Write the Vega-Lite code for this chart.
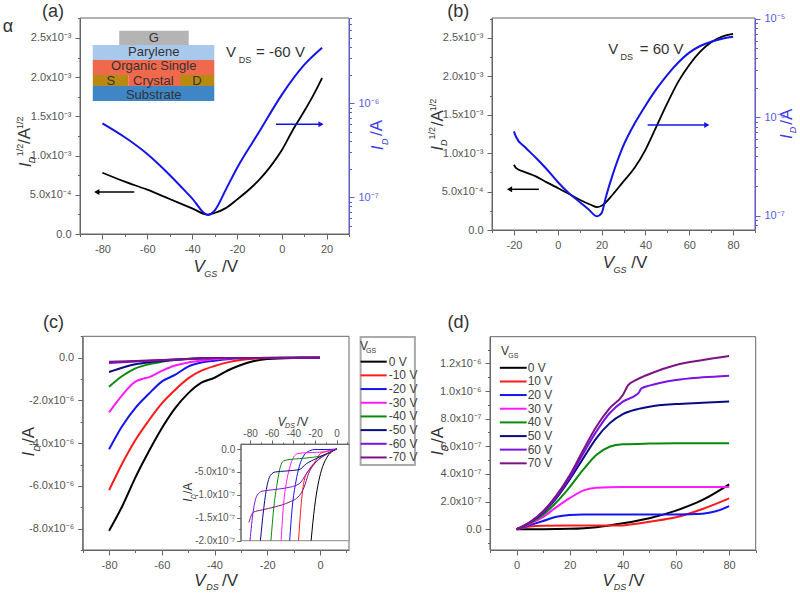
{"$schema":"https://vega.github.io/schema/vega-lite/v6.json","width":800,"height":593,"padding":0,"autosize":{"type":"none"},"background":"white",
"config":{"view":{"stroke":null},"legend":{"disable":true},"axis":{"grid":false,"title":null,"labelOverlap":false,"labelFlush":false,"labelBound":false,"domainColor":"#666666","tickColor":"#666666","labelColor":"#555555","labelFont":"Liberation Sans","labelFontSize":11,"labelPadding":4},"text":{"font":"Liberation Sans","baseline":"middle"},"line":{"interpolate":"monotone"}},
"datasets":{
"aBlack":[{"v":-80,"i":0.782e-3},{"v":-70,"i":0.667e-3},{"v":-60,"i":0.565e-3},{"v":-50,"i":0.446e-3},{"v":-40,"i":0.327e-3},{"v":-33,"i":0.247e-3},{"v":-30,"i":0.268e-3},{"v":-25,"i":0.33e-3},{"v":-20,"i":0.438e-3},{"v":-10,"i":0.693e-3},{"v":-5,"i":0.863e-3},{"v":0,"i":1.067e-3},{"v":5,"i":1.33e-3},{"v":10,"i":1.565e-3},{"v":15,"i":1.82e-3},{"v":18,"i":1.99e-3}],
"aBlue":[{"v":-80,"i":6.12e-7},{"v":-70,"i":4.35e-7},{"v":-60,"i":2.89e-7},{"v":-50,"i":1.73e-7},{"v":-40,"i":9.75e-8},{"v":-33,"i":6.49e-8},{"v":-30,"i":7.2e-8},{"v":-25,"i":1.2e-7},{"v":-20,"i":2.04e-7},{"v":-10,"i":5.0e-7},{"v":0,"i":1.23e-6},{"v":10,"i":2.56e-6},{"v":18,"i":3.9e-6}],
"bBlack":[{"v":-20,"i":0.849e-3},{"v":-19,"i":0.806e-3},{"v":-15,"i":0.754e-3},{"v":-10,"i":0.698e-3},{"v":-5,"i":0.62e-3},{"v":0,"i":0.546e-3},{"v":5,"i":0.472e-3},{"v":10,"i":0.394e-3},{"v":15,"i":0.329e-3},{"v":18,"i":0.299e-3},{"v":20,"i":0.316e-3},{"v":25,"i":0.459e-3},{"v":30,"i":0.633e-3},{"v":35,"i":0.806e-3},{"v":40,"i":1.044e-3},{"v":45,"i":1.347e-3},{"v":50,"i":1.651e-3},{"v":55,"i":1.932e-3},{"v":60,"i":2.149e-3},{"v":65,"i":2.322e-3},{"v":70,"i":2.444e-3},{"v":75,"i":2.517e-3},{"v":80,"i":2.552e-3}],
"bBlue":[{"v":-20,"i":7.2e-7},{"v":-19,"i":6.3e-7},{"v":-15,"i":4.98e-7},{"v":-10,"i":3.88e-7},{"v":-5,"i":2.96e-7},{"v":0,"i":2.2e-7},{"v":5,"i":1.7e-7},{"v":10,"i":1.38e-7},{"v":14,"i":1.16e-7},{"v":18,"i":9.85e-8},{"v":20,"i":1.06e-7},{"v":22,"i":1.56e-7},{"v":25,"i":2.58e-7},{"v":30,"i":5.17e-7},{"v":35,"i":8.57e-7},{"v":40,"i":1.31e-6},{"v":45,"i":1.93e-6},{"v":50,"i":2.7e-6},{"v":55,"i":3.6e-6},{"v":60,"i":4.54e-6},{"v":65,"i":5.3e-6},{"v":70,"i":5.86e-6},{"v":75,"i":6.28e-6},{"v":80,"i":6.58e-6}],
"cLines":[
{"g":"0","v":-80,"i":-8.1e-6},{"g":"0","v":-75,"i":-6.95e-6},{"g":"0","v":-70,"i":-5.6e-6},{"g":"0","v":-65,"i":-4.4e-6},{"g":"0","v":-60,"i":-3.3e-6},{"g":"0","v":-55,"i":-2.37e-6},{"g":"0","v":-50,"i":-1.67e-6},{"g":"0","v":-45,"i":-1.17e-6},{"g":"0","v":-40,"i":-0.94e-6},{"g":"0","v":-35,"i":-0.6e-6},{"g":"0","v":-30,"i":-0.34e-6},{"g":"0","v":-25,"i":-0.16e-6},{"g":"0","v":-20,"i":-0.06e-6},{"g":"0","v":-10,"i":-0.01e-6},{"g":"0","v":0,"i":0},
{"g":"10","v":-80,"i":-6.2e-6},{"g":"10","v":-75,"i":-4.95e-6},{"g":"10","v":-70,"i":-3.85e-6},{"g":"10","v":-65,"i":-2.95e-6},{"g":"10","v":-60,"i":-2.14e-6},{"g":"10","v":-55,"i":-1.51e-6},{"g":"10","v":-50,"i":-0.97e-6},{"g":"10","v":-45,"i":-0.61e-6},{"g":"10","v":-40,"i":-0.39e-6},{"g":"10","v":-35,"i":-0.22e-6},{"g":"10","v":-30,"i":-0.11e-6},{"g":"10","v":-25,"i":-0.05e-6},{"g":"10","v":-20,"i":-0.02e-6},{"g":"10","v":0,"i":0},
{"g":"20","v":-80,"i":-4.29e-6},{"g":"20","v":-75,"i":-3.2e-6},{"g":"20","v":-70,"i":-2.35e-6},{"g":"20","v":-65,"i":-1.7e-6},{"g":"20","v":-60,"i":-1.12e-6},{"g":"20","v":-55,"i":-0.81e-6},{"g":"20","v":-50,"i":-0.42e-6},{"g":"20","v":-45,"i":-0.23e-6},{"g":"20","v":-40,"i":-0.14e-6},{"g":"20","v":-35,"i":-0.07e-6},{"g":"20","v":-30,"i":-0.03e-6},{"g":"20","v":-20,"i":-0.01e-6},{"g":"20","v":0,"i":0},
{"g":"30","v":-80,"i":-2.56e-6},{"g":"30","v":-75,"i":-1.75e-6},{"g":"30","v":-70,"i":-1.12e-6},{"g":"30","v":-67,"i":-0.98e-6},{"g":"30","v":-65,"i":-0.92e-6},{"g":"30","v":-60,"i":-0.62e-6},{"g":"30","v":-55,"i":-0.37e-6},{"g":"30","v":-50,"i":-0.23e-6},{"g":"30","v":-45,"i":-0.14e-6},{"g":"30","v":-40,"i":-0.07e-6},{"g":"30","v":-30,"i":-0.02e-6},{"g":"30","v":0,"i":0},
{"g":"40","v":-80,"i":-1.36e-6},{"g":"40","v":-75,"i":-0.86e-6},{"g":"40","v":-70,"i":-0.5e-6},{"g":"40","v":-65,"i":-0.31e-6},{"g":"40","v":-60,"i":-0.19e-6},{"g":"40","v":-55,"i":-0.1e-6},{"g":"40","v":-50,"i":-0.05e-6},{"g":"40","v":-40,"i":-0.02e-6},{"g":"40","v":0,"i":0},
{"g":"50","v":-80,"i":-0.67e-6},{"g":"50","v":-75,"i":-0.47e-6},{"g":"50","v":-70,"i":-0.31e-6},{"g":"50","v":-65,"i":-0.22e-6},{"g":"50","v":-60,"i":-0.16e-6},{"g":"50","v":-50,"i":-0.06e-6},{"g":"50","v":-40,"i":-0.02e-6},{"g":"50","v":0,"i":0},
{"g":"60","v":-80,"i":-0.25e-6},{"g":"60","v":-70,"i":-0.18e-6},{"g":"60","v":-60,"i":-0.12e-6},{"g":"60","v":-50,"i":-0.06e-6},{"g":"60","v":-40,"i":-0.02e-6},{"g":"60","v":0,"i":0},
{"g":"70","v":-80,"i":-0.19e-6},{"g":"70","v":-70,"i":-0.16e-6},{"g":"70","v":-60,"i":-0.11e-6},{"g":"70","v":-50,"i":-0.06e-6},{"g":"70","v":-40,"i":-0.02e-6},{"g":"70","v":0,"i":0}],
"insetLines":[
{"g":"0","v":-23.6,"i":-2e-7},{"g":"0","v":-20.4,"i":-1.27e-7},{"g":"0","v":-17.3,"i":-0.79e-7},{"g":"0","v":-14,"i":-0.46e-7},{"g":"0","v":-9.4,"i":-0.2e-7},{"g":"0","v":-4.7,"i":-0.06e-7},{"g":"0","v":0,"i":0},
{"g":"10","v":-35.2,"i":-2e-7},{"g":"10","v":-33,"i":-1.27e-7},{"g":"10","v":-29.9,"i":-0.68e-7},{"g":"10","v":-25,"i":-0.43e-7},{"g":"10","v":-20,"i":-0.28e-7},{"g":"10","v":-15,"i":-0.1e-7},{"g":"10","v":-9,"i":-0.05e-7},{"g":"10","v":0,"i":0},
{"g":"20","v":-43.4,"i":-2e-7},{"g":"20","v":-41,"i":-1.27e-7},{"g":"20","v":-37.7,"i":-0.72e-7},{"g":"20","v":-34.6,"i":-0.39e-7},{"g":"20","v":-30,"i":-0.13e-7},{"g":"20","v":-25,"i":-0.04e-7},{"g":"20","v":-20,"i":-0.01e-7},{"g":"20","v":-9,"i":-0.01e-7},{"g":"20","v":0,"i":0},
{"g":"30","v":-51.3,"i":-2e-7},{"g":"30","v":-49,"i":-1.2e-7},{"g":"30","v":-46,"i":-0.68e-7},{"g":"30","v":-42.7,"i":-0.35e-7},{"g":"30","v":-39.6,"i":-0.17e-7},{"g":"30","v":-36,"i":-0.1e-7},{"g":"30","v":-28,"i":-0.08e-7},{"g":"30","v":-16,"i":-0.07e-7},{"g":"30","v":0,"i":0},
{"g":"40","v":-60.7,"i":-2e-7},{"g":"40","v":-58,"i":-1.27e-7},{"g":"40","v":-55,"i":-0.76e-7},{"g":"40","v":-52,"i":-0.39e-7},{"g":"40","v":-49,"i":-0.26e-7},{"g":"40","v":-44,"i":-0.23e-7},{"g":"40","v":-34.6,"i":-0.21e-7},{"g":"40","v":-22,"i":-0.18e-7},{"g":"40","v":-11,"i":-0.13e-7},{"g":"40","v":0,"i":0},
{"g":"50","v":-70.4,"i":-2e-7},{"g":"50","v":-67.6,"i":-1.35e-7},{"g":"50","v":-64.5,"i":-0.83e-7},{"g":"50","v":-61,"i":-0.57e-7},{"g":"50","v":-56.6,"i":-0.5e-7},{"g":"50","v":-47,"i":-0.48e-7},{"g":"50","v":-34.6,"i":-0.45e-7},{"g":"50","v":-28,"i":-0.32e-7},{"g":"50","v":-19,"i":-0.21e-7},{"g":"50","v":-9.4,"i":-0.1e-7},{"g":"50","v":0,"i":0},
{"g":"60","v":-80,"i":-2e-7},{"g":"60","v":-77,"i":-1.35e-7},{"g":"60","v":-73.7,"i":-1.02e-7},{"g":"60","v":-69,"i":-0.92e-7},{"g":"60","v":-59.6,"i":-0.89e-7},{"g":"60","v":-47,"i":-0.85e-7},{"g":"60","v":-34.6,"i":-0.76e-7},{"g":"60","v":-28,"i":-0.54e-7},{"g":"60","v":-19,"i":-0.28e-7},{"g":"60","v":-9.4,"i":-0.11e-7},{"g":"60","v":0,"i":0},
{"g":"70","v":-81,"i":-1.6e-7},{"g":"70","v":-77,"i":-1.38e-7},{"g":"70","v":-69,"i":-1.33e-7},{"g":"70","v":-56.6,"i":-1.26e-7},{"g":"70","v":-44,"i":-1.16e-7},{"g":"70","v":-34.6,"i":-1.02e-7},{"g":"70","v":-30,"i":-0.83e-7},{"g":"70","v":-26,"i":-0.54e-7},{"g":"70","v":-19,"i":-0.28e-7},{"g":"70","v":-9.4,"i":-0.11e-7},{"g":"70","v":0,"i":0}],
"dLines":[
{"g":"0","v":0,"i":0},{"g":"0","v":10,"i":0},{"g":"0","v":20,"i":0.03e-7},{"g":"0","v":30,"i":0.15e-7},{"g":"0","v":40,"i":0.43e-7},{"g":"0","v":50,"i":0.8e-7},{"g":"0","v":60,"i":1.35e-7},{"g":"0","v":70,"i":2.12e-7},{"g":"0","v":80,"i":3.25e-7},
{"g":"10","v":0,"i":0},{"g":"10","v":5,"i":0.2e-7},{"g":"10","v":10,"i":0.25e-7},{"g":"10","v":20,"i":0.27e-7},{"g":"10","v":30,"i":0.27e-7},{"g":"10","v":40,"i":0.28e-7},{"g":"10","v":45,"i":0.4e-7},{"g":"10","v":50,"i":0.55e-7},{"g":"10","v":60,"i":0.87e-7},{"g":"10","v":70,"i":1.47e-7},{"g":"10","v":80,"i":2.24e-7},
{"g":"20","v":0,"i":0},{"g":"20","v":5,"i":0.3e-7},{"g":"20","v":10,"i":0.6e-7},{"g":"20","v":15,"i":0.9e-7},{"g":"20","v":20,"i":1.03e-7},{"g":"20","v":25,"i":1.06e-7},{"g":"20","v":40,"i":1.06e-7},{"g":"20","v":60,"i":1.07e-7},{"g":"20","v":70,"i":1.13e-7},{"g":"20","v":75,"i":1.3e-7},{"g":"20","v":80,"i":1.68e-7},
{"g":"30","v":0,"i":0},{"g":"30","v":5,"i":0.4e-7},{"g":"30","v":10,"i":0.9e-7},{"g":"30","v":15,"i":1.6e-7},{"g":"30","v":20,"i":2.25e-7},{"g":"30","v":25,"i":2.8e-7},{"g":"30","v":30,"i":3.0e-7},{"g":"30","v":40,"i":3.06e-7},{"g":"30","v":60,"i":3.05e-7},{"g":"30","v":80,"i":3.05e-7},
{"g":"40","v":0,"i":0},{"g":"40","v":5,"i":0.45e-7},{"g":"40","v":10,"i":1.05e-7},{"g":"40","v":15,"i":1.95e-7},{"g":"40","v":20,"i":3.05e-7},{"g":"40","v":25,"i":4.29e-7},{"g":"40","v":30,"i":5.37e-7},{"g":"40","v":35,"i":5.97e-7},{"g":"40","v":40,"i":6.15e-7},{"g":"40","v":50,"i":6.2e-7},{"g":"40","v":60,"i":6.22e-7},{"g":"40","v":80,"i":6.22e-7},
{"g":"50","v":0,"i":0},{"g":"50","v":5,"i":0.5e-7},{"g":"50","v":10,"i":1.2e-7},{"g":"50","v":15,"i":2.25e-7},{"g":"50","v":20,"i":3.6e-7},{"g":"50","v":25,"i":5.1e-7},{"g":"50","v":30,"i":6.58e-7},{"g":"50","v":35,"i":7.66e-7},{"g":"50","v":40,"i":8.33e-7},{"g":"50","v":45,"i":8.67e-7},{"g":"50","v":50,"i":8.87e-7},{"g":"50","v":60,"i":9.06e-7},{"g":"50","v":70,"i":9.15e-7},{"g":"50","v":80,"i":9.25e-7},
{"g":"60","v":0,"i":0},{"g":"60","v":5,"i":0.5e-7},{"g":"60","v":10,"i":1.25e-7},{"g":"60","v":15,"i":2.35e-7},{"g":"60","v":20,"i":3.75e-7},{"g":"60","v":25,"i":5.45e-7},{"g":"60","v":30,"i":7.06e-7},{"g":"60","v":35,"i":8.39e-7},{"g":"60","v":40,"i":9.23e-7},{"g":"60","v":45,"i":9.71e-7},{"g":"60","v":46,"i":9.88e-7},{"g":"60","v":47,"i":10.19e-7},{"g":"60","v":50,"i":10.39e-7},{"g":"60","v":60,"i":10.8e-7},{"g":"60","v":70,"i":10.99e-7},{"g":"60","v":80,"i":11.11e-7},
{"g":"70","v":0,"i":0},{"g":"70","v":5,"i":0.5e-7},{"g":"70","v":10,"i":1.3e-7},{"g":"70","v":15,"i":2.45e-7},{"g":"70","v":20,"i":3.9e-7},{"g":"70","v":25,"i":5.7e-7},{"g":"70","v":30,"i":7.42e-7},{"g":"70","v":35,"i":8.75e-7},{"g":"70","v":40,"i":9.71e-7},{"g":"70","v":42,"i":10.43e-7},{"g":"70","v":45,"i":10.8e-7},{"g":"70","v":50,"i":11.23e-7},{"g":"70","v":60,"i":11.88e-7},{"g":"70","v":70,"i":12.24e-7},{"g":"70","v":80,"i":12.53e-7}]
},
"layer":[
{"resolve":{"axis":{"x":"independent","y":"independent"}},"layer":[
{"data":{"values":[{"a":-90,"b":30,"p":0,"q":2.755e-3}]},"mark":{"type":"rect","fill":"transparent","stroke":"#666666","strokeWidth":1},"encoding":{
"x":{"field":"a","type":"quantitative","scale":{"domain":[-90,30],"range":[80,349],"nice":false,"zero":false},"axis":{"orient":"bottom","offset":-359,"values":[-90,-80,-70,-60,-50,-40,-30,-20,-10,0,10,20,30],"labelExpr":"datum.value%20==0?''+datum.value:''","tickSize":{"condition":{"test":"datum.value%20==0","value":5},"value":2.5}}},"x2":{"field":"b"},
"y":{"field":"p","type":"quantitative","scale":{"domain":[0,2.755e-3],"range":[234,18],"nice":false,"zero":false},"axis":{"orient":"left","offset":-80,"values":[0,0.25e-3,0.5e-3,0.75e-3,1e-3,1.25e-3,1.5e-3,1.75e-3,2e-3,2.25e-3,2.5e-3,2.75e-3],"labelExpr":"abs(datum.value*2000-round(datum.value*2000))>0.01?'':datum.value==0?'0.0':datum.value<9e-4?'5.0x10⁻⁴':format(datum.value*1000,'.1f')+'x10⁻³'","tickSize":{"condition":{"test":"abs(datum.value*2000-round(datum.value*2000))<0.01","value":5},"value":2.5}}},"y2":{"field":"q"}}},
{"data":{"values":[{"n":"gate","a":-72.5,"b":-41.5,"p":2.411e-3,"q":2.593e-3},{"n":"parylene","a":-84.3,"b":-30.1,"p":2.219e-3,"q":2.411e-3},{"n":"organic","a":-84.3,"b":-30.1,"p":2.028e-3,"q":2.219e-3},{"n":"electrode","a":-84.3,"b":-68.5,"p":1.888e-3,"q":2.028e-3},{"n":"organic","a":-68.5,"b":-45.4,"p":1.888e-3,"q":2.028e-3},{"n":"electrode","a":-45.4,"b":-30.1,"p":1.888e-3,"q":2.028e-3},{"n":"substrate","a":-84.3,"b":-30.1,"p":1.696e-3,"q":1.888e-3}]},"mark":{"type":"rect"},"encoding":{"x":{"field":"a","type":"quantitative","axis":null},"x2":{"field":"b"},"y":{"field":"p","type":"quantitative","axis":null},"y2":{"field":"q"},"fill":{"field":"n","type":"nominal","scale":{"domain":["gate","parylene","organic","electrode","substrate"],"range":["#b4b4b4","#a9c9ec","#f1694c","#b98a12","#3f86c6"]}}}},
{"data":{"name":"aBlack"},"mark":{"type":"line","stroke":"#000000","strokeWidth":1.8},"encoding":{"x":{"field":"v","type":"quantitative","axis":null},"y":{"field":"i","type":"quantitative","axis":null}}},
{"data":{"values":[{"a":-65.8,"b":-83,"p":0.536e-3,"c":"ink"},{"a":-2.6,"b":18,"p":1.399e-3,"c":"blue"}]},"mark":{"type":"rule","strokeWidth":1.5},"encoding":{"x":{"field":"a","type":"quantitative","axis":null},"x2":{"field":"b"},"y":{"field":"p","type":"quantitative","axis":null},"color":{"field":"c","type":"nominal","scale":{"domain":["0","10","20","30","40","50","60","70","ink","blue"],"range":["#000000","#ff1a1a","#1414f0","#ff1aff","#0a8a0a","#0a0a85","#7a14e6","#7d1285","#000000","#1414e6"]}}}},
{"data":{"values":[{"a":-82.5,"p":0.536e-3,"h":"l","c":"ink"},{"a":17.5,"p":1.399e-3,"h":"r","c":"blue"}]},"mark":{"type":"point","filled":true,"opacity":1,"size":35},"encoding":{"x":{"field":"a","type":"quantitative","axis":null},"y":{"field":"p","type":"quantitative","axis":null},"shape":{"field":"h","type":"nominal","scale":{"domain":["l","r"],"range":["triangle-left","triangle-right"]}},"color":{"field":"c","type":"nominal","scale":{"domain":["0","10","20","30","40","50","60","70","ink","blue"],"range":["#000000","#ff1a1a","#1414f0","#ff1aff","#0a8a0a","#0a0a85","#7a14e6","#7d1285","#000000","#1414e6"]}}}},
{"data":{"values":[{"t":"G","x":-57.1,"y":2.5e-3,"r":"box","d":"h"},{"t":"Parylene","x":-57.1,"y":2.321e-3,"r":"box","d":"h"},{"t":"Organic Single","x":-57.1,"y":2.143e-3,"r":"box","d":"h"},{"t":"S","x":-76.3,"y":1.955e-3,"r":"box","d":"h"},{"t":"Crystal","x":-57.3,"y":1.955e-3,"r":"box","d":"h"},{"t":"D","x":-37.8,"y":1.955e-3,"r":"box","d":"h"},{"t":"Substrate","x":-57.1,"y":1.777e-3,"r":"box","d":"h"},{"t":"(a)","x":-102,"y":2.832e-3,"r":"label","d":"h"},{"t":"α","x":-122.1,"y":2.64e-3,"r":"label","d":"h"},{"t":"V","x":-22.6,"y":2.318e-3,"r":"note","d":"h"},{"t":"DS","x":-16.4,"y":2.219e-3,"r":"sub","d":"h"},{"t":"= -60 V","x":-0.56,"y":2.318e-3,"r":"note","d":"h"},{"t":"/V","x":-23.1,"y":-0.417e-3,"r":"title","d":"h"},{"t":"1/2","x":-116.8,"y":1.071e-3,"r":"sub","d":"v"},{"t":"/A","x":-114.5,"y":1.25e-3,"r":"title","d":"v"},{"t":"1/2","x":-116.8,"y":1.42e-3,"r":"sub","d":"v"}]},"mark":{"type":"text","color":"#333333"},"encoding":{"x":{"field":"x","type":"quantitative","axis":null},"y":{"field":"y","type":"quantitative","axis":null},"text":{"field":"t"},"size":{"field":"r","type":"ordinal","scale":{"type":"ordinal","domain":["label","title","note","box","legend","inset","sub","isub"],"range":[18,17,15,13,12,12,9,7]}},"angle":{"field":"d","type":"ordinal","scale":{"domain":["h","v"],"range":[0,270]}}}},
{"data":{"values":[{"t":"V","x":-36.8,"y":-0.417e-3,"r":"title","d":"h"},{"t":"GS","x":-31.7,"y":-0.51e-3,"r":"sub","d":"h"},{"t":"I","x":-114.1,"y":0.88e-3,"r":"title","d":"v"},{"t":"D","x":-111.3,"y":0.944e-3,"r":"sub","d":"v"}]},"mark":{"type":"text","color":"#333333","fontStyle":"italic"},"encoding":{"x":{"field":"x","type":"quantitative","axis":null},"y":{"field":"y","type":"quantitative","axis":null},"text":{"field":"t"},"size":{"field":"r","type":"ordinal","scale":{"type":"ordinal","domain":["label","title","note","box","legend","inset","sub","isub"],"range":[18,17,15,13,12,12,9,7]}},"angle":{"field":"d","type":"ordinal","scale":{"domain":["h","v"],"range":[0,270]}}}},
{"data":{"values":[{"t":"I","x":42.9,"y":1.097e-3,"r":"title","d":"v"},{"t":"D","x":46.1,"y":1.177e-3,"r":"sub","d":"v"}]},"mark":{"type":"text","color":"#3c3ce8","fontStyle":"italic"},"encoding":{"x":{"field":"x","type":"quantitative","axis":null},"y":{"field":"y","type":"quantitative","axis":null},"text":{"field":"t"},"size":{"field":"r","type":"ordinal","scale":{"type":"ordinal","domain":["label","title","note","box","legend","inset","sub","isub"],"range":[18,17,15,13,12,12,9,7]}},"angle":{"field":"d","type":"ordinal","scale":{"domain":["h","v"],"range":[0,270]}}}},
{"data":{"values":[{"t":"/A","x":42.4,"y":1.352e-3,"r":"title","d":"v"}]},"mark":{"type":"text","color":"#3c3ce8"},"encoding":{"x":{"field":"x","type":"quantitative","axis":null},"y":{"field":"y","type":"quantitative","axis":null},"text":{"field":"t"},"size":{"field":"r","type":"ordinal","scale":{"type":"ordinal","domain":["label","title","note","box","legend","inset","sub","isub"],"range":[18,17,15,13,12,12,9,7]}},"angle":{"field":"d","type":"ordinal","scale":{"domain":["h","v"],"range":[0,270]}}}}
]},
{"data":{"name":"aBlue"},"mark":{"type":"line","stroke":"#1414e6","strokeWidth":2},"encoding":{
"x":{"field":"v","type":"quantitative","scale":{"domain":[-90,30],"range":[80,349],"nice":false,"zero":false},"axis":null},
"y":{"field":"i","type":"quantitative","scale":{"type":"log","domain":[4.07e-8,8.08e-6],"range":[234,18],"nice":false},"axis":{"orient":"right","offset":-451,"zindex":1,"domainColor":"#5a5af0","tickColor":"#5a5af0","labelColor":"#5a5af0","values":[5e-8,6e-8,7e-8,8e-8,9e-8,1e-7,2e-7,3e-7,4e-7,5e-7,6e-7,7e-7,8e-7,9e-7,1e-6,2e-6,3e-6,4e-6,5e-6,6e-6,7e-6,8e-6],"labelExpr":"datum.value>9e-7&&datum.value<1.1e-6?'10⁻⁶':datum.value>9e-8&&datum.value<1.1e-7?'10⁻⁷':''","tickSize":{"condition":{"test":"abs(log(datum.value)/LN10-round(log(datum.value)/LN10))<0.01","value":5},"value":2.5}}}}},
{"resolve":{"axis":{"x":"independent","y":"independent"}},"layer":[
{"data":{"values":[{"a":-30,"b":90,"p":0,"q":2.76e-3}]},"mark":{"type":"rect","fill":"transparent","stroke":"#666666","strokeWidth":1},"encoding":{
"x":{"field":"a","type":"quantitative","scale":{"domain":[-30,90],"range":[492,755],"nice":false,"zero":false},"axis":{"orient":"bottom","offset":-363,"values":[-30,-20,-10,0,10,20,30,40,50,60,70,80,90],"labelExpr":"datum.value%20==0?''+datum.value:''","tickSize":{"condition":{"test":"datum.value%20==0","value":5},"value":2.5}}},"x2":{"field":"b"},
"y":{"field":"p","type":"quantitative","scale":{"domain":[0,2.76e-3],"range":[230,18],"nice":false,"zero":false},"axis":{"orient":"left","offset":-492,"values":[0,0.25e-3,0.5e-3,0.75e-3,1e-3,1.25e-3,1.5e-3,1.75e-3,2e-3,2.25e-3,2.5e-3,2.75e-3],"labelExpr":"abs(datum.value*2000-round(datum.value*2000))>0.01?'':datum.value==0?'0.0':datum.value<9e-4?'5.0x10⁻⁴':format(datum.value*1000,'.1f')+'x10⁻³'","tickSize":{"condition":{"test":"abs(datum.value*2000-round(datum.value*2000))<0.01","value":5},"value":2.5}}},"y2":{"field":"q"}}},
{"data":{"name":"bBlack"},"mark":{"type":"line","stroke":"#000000","strokeWidth":1.8},"encoding":{"x":{"field":"v","type":"quantitative","axis":null},"y":{"field":"i","type":"quantitative","axis":null}}},
{"data":{"values":[{"a":-8.6,"b":-22,"p":0.53e-3,"c":"ink"},{"a":41,"b":68.5,"p":1.367e-3,"c":"blue"}]},"mark":{"type":"rule","strokeWidth":1.5},"encoding":{"x":{"field":"a","type":"quantitative","axis":null},"x2":{"field":"b"},"y":{"field":"p","type":"quantitative","axis":null},"color":{"field":"c","type":"nominal","scale":{"domain":["0","10","20","30","40","50","60","70","ink","blue"],"range":["#000000","#ff1a1a","#1414f0","#ff1aff","#0a8a0a","#0a0a85","#7a14e6","#7d1285","#000000","#1414e6"]}}}},
{"data":{"values":[{"a":-22,"p":0.53e-3,"h":"l","c":"ink"},{"a":68,"p":1.367e-3,"h":"r","c":"blue"}]},"mark":{"type":"point","filled":true,"opacity":1,"size":35},"encoding":{"x":{"field":"a","type":"quantitative","axis":null},"y":{"field":"p","type":"quantitative","axis":null},"shape":{"field":"h","type":"nominal","scale":{"domain":["l","r"],"range":["triangle-left","triangle-right"]}},"color":{"field":"c","type":"nominal","scale":{"domain":["0","10","20","30","40","50","60","70","ink","blue"],"range":["#000000","#ff1a1a","#1414f0","#ff1aff","#0a8a0a","#0a0a85","#7a14e6","#7d1285","#000000","#1414e6"]}}}},
{"data":{"values":[{"t":"(b)","x":-45.4,"y":2.842e-3,"r":"label","d":"h"},{"t":"V","x":25.3,"y":2.353e-3,"r":"note","d":"h"},{"t":"DS","x":31.5,"y":2.257e-3,"r":"sub","d":"h"},{"t":"= 60 V","x":47.4,"y":2.353e-3,"r":"note","d":"h"},{"t":"/V","x":37.2,"y":-0.434e-3,"r":"title","d":"h"},{"t":"1/2","x":-57.5,"y":1.259e-3,"r":"sub","d":"v"},{"t":"/A","x":-54.5,"y":1.454e-3,"r":"title","d":"v"},{"t":"1/2","x":-56.8,"y":1.628e-3,"r":"sub","d":"v"}]},"mark":{"type":"text","color":"#333333"},"encoding":{"x":{"field":"x","type":"quantitative","axis":null},"y":{"field":"y","type":"quantitative","axis":null},"text":{"field":"t"},"size":{"field":"r","type":"ordinal","scale":{"type":"ordinal","domain":["label","title","note","box","legend","inset","sub","isub"],"range":[18,17,15,13,12,12,9,7]}},"angle":{"field":"d","type":"ordinal","scale":{"domain":["h","v"],"range":[0,270]}}}},
{"data":{"values":[{"t":"V","x":23.1,"y":-0.434e-3,"r":"title","d":"h"},{"t":"GS","x":28.4,"y":-0.521e-3,"r":"sub","d":"h"},{"t":"I","x":-54.8,"y":1.064e-3,"r":"title","d":"v"},{"t":"D","x":-51.8,"y":1.137e-3,"r":"sub","d":"v"}]},"mark":{"type":"text","color":"#333333","fontStyle":"italic"},"encoding":{"x":{"field":"x","type":"quantitative","axis":null},"y":{"field":"y","type":"quantitative","axis":null},"text":{"field":"t"},"size":{"field":"r","type":"ordinal","scale":{"type":"ordinal","domain":["label","title","note","box","legend","inset","sub","isub"],"range":[18,17,15,13,12,12,9,7]}},"angle":{"field":"d","type":"ordinal","scale":{"domain":["h","v"],"range":[0,270]}}}},
{"data":{"values":[{"t":"I","x":104.5,"y":1.215e-3,"r":"title","d":"v"},{"t":"D","x":107.5,"y":1.302e-3,"r":"sub","d":"v"}]},"mark":{"type":"text","color":"#3c3ce8","fontStyle":"italic"},"encoding":{"x":{"field":"x","type":"quantitative","axis":null},"y":{"field":"y","type":"quantitative","axis":null},"text":{"field":"t"},"size":{"field":"r","type":"ordinal","scale":{"type":"ordinal","domain":["label","title","note","box","legend","inset","sub","isub"],"range":[18,17,15,13,12,12,9,7]}},"angle":{"field":"d","type":"ordinal","scale":{"domain":["h","v"],"range":[0,270]}}}},
{"data":{"values":[{"t":"/A","x":104.5,"y":1.475e-3,"r":"title","d":"v"}]},"mark":{"type":"text","color":"#3c3ce8"},"encoding":{"x":{"field":"x","type":"quantitative","axis":null},"y":{"field":"y","type":"quantitative","axis":null},"text":{"field":"t"},"size":{"field":"r","type":"ordinal","scale":{"type":"ordinal","domain":["label","title","note","box","legend","inset","sub","isub"],"range":[18,17,15,13,12,12,9,7]}},"angle":{"field":"d","type":"ordinal","scale":{"domain":["h","v"],"range":[0,270]}}}}
]},
{"data":{"name":"bBlue"},"mark":{"type":"line","stroke":"#1414e6","strokeWidth":2},"encoding":{
"x":{"field":"v","type":"quantitative","scale":{"domain":[-30,90],"range":[492,755],"nice":false,"zero":false},"axis":null},
"y":{"field":"i","type":"quantitative","scale":{"type":"log","domain":[7.15e-8,1.02e-5],"range":[230,18],"nice":false},"axis":{"orient":"right","offset":-45,"zindex":1,"domainColor":"#5a5af0","tickColor":"#5a5af0","labelColor":"#5a5af0","values":[8e-8,9e-8,1e-7,2e-7,3e-7,4e-7,5e-7,6e-7,7e-7,8e-7,9e-7,1e-6,2e-6,3e-6,4e-6,5e-6,6e-6,7e-6,8e-6,9e-6,1e-5],"labelExpr":"datum.value>9.5e-6?'10⁻⁵':datum.value>9.5e-7&&datum.value<1.1e-6?'10⁻⁶':datum.value>9.5e-8&&datum.value<1.1e-7?'10⁻⁷':''","tickSize":{"condition":{"test":"abs(log(datum.value)/LN10-round(log(datum.value)/LN10))<0.01","value":5},"value":2.5}}}}},
{"resolve":{"axis":{"x":"independent","y":"independent"}},"layer":[
{"data":{"values":[{"a":-90,"b":11,"p":-9e-6,"q":1e-6}]},"mark":{"type":"rect","fill":"transparent","stroke":"#666666","strokeWidth":1},"encoding":{
"x":{"field":"a","type":"quantitative","scale":{"domain":[-90,11],"range":[82.7,349],"nice":false,"zero":false},"axis":{"orient":"bottom","offset":-43,"values":[-90,-80,-70,-60,-50,-40,-30,-20,-10,0,10],"labelExpr":"datum.value%20==0?''+datum.value:''","tickSize":{"condition":{"test":"datum.value%20==0","value":5},"value":2.5}}},"x2":{"field":"b"},
"y":{"field":"p","type":"quantitative","scale":{"domain":[-9e-6,1e-6],"range":[550,336.3],"nice":false,"zero":false},"axis":{"orient":"left","offset":-82.7,"values":[-9e-6,-8e-6,-7e-6,-6e-6,-5e-6,-4e-6,-3e-6,-2e-6,-1e-6,0,1e-6],"labelExpr":"abs(datum.value*5e5-round(datum.value*5e5))>0.01?'':datum.value==0?'0.0':'-'+format(-datum.value*1e6,'.1f')+'x10⁻⁶'","tickSize":{"condition":{"test":"abs(datum.value*5e5-round(datum.value*5e5))<0.01","value":5},"value":2.5}}},"y2":{"field":"q"}}},
{"data":{"name":"cLines"},"mark":{"type":"line","strokeWidth":2},"encoding":{"x":{"field":"v","type":"quantitative","axis":null},"y":{"field":"i","type":"quantitative","axis":null},"color":{"field":"g","type":"nominal","scale":{"domain":["0","10","20","30","40","50","60","70","ink","blue"],"range":["#000000","#ff1a1a","#1414f0","#ff1aff","#0a8a0a","#0a0a85","#7a14e6","#7d1285","#000000","#1414e6"]}}}},
{"data":{"values":[{"a":15.4,"b":36,"p":-5.02e-6,"q":0.969e-6}]},"mark":{"type":"rect","fill":"white","stroke":"#aaaaaa","strokeWidth":2},"encoding":{"x":{"field":"a","type":"quantitative","axis":null},"x2":{"field":"b"},"y":{"field":"p","type":"quantitative","axis":null},"y2":{"field":"q"}}},
{"data":{"values":[{"g":"0","a":15.4,"b":25.3,"p":-0.187e-6,"t":"0 V"},{"g":"10","a":15.4,"b":25.3,"p":-0.828e-6,"t":"-10 V"},{"g":"20","a":15.4,"b":25.3,"p":-1.469e-6,"t":"-20 V"},{"g":"30","a":15.4,"b":25.3,"p":-2.11e-6,"t":"-30 V"},{"g":"40","a":15.4,"b":25.3,"p":-2.75e-6,"t":"-40 V"},{"g":"50","a":15.4,"b":25.3,"p":-3.39e-6,"t":"-50 V"},{"g":"60","a":15.4,"b":25.3,"p":-4.03e-6,"t":"-60 V"},{"g":"70","a":15.4,"b":25.3,"p":-4.67e-6,"t":"-70 V"}]},"layer":[
{"mark":{"type":"rule","strokeWidth":2},"encoding":{"x":{"field":"a","type":"quantitative","axis":null},"x2":{"field":"b"},"y":{"field":"p","type":"quantitative","axis":null},"color":{"field":"g","type":"nominal","scale":{"domain":["0","10","20","30","40","50","60","70","ink","blue"],"range":["#000000","#ff1a1a","#1414f0","#ff1aff","#0a8a0a","#0a0a85","#7a14e6","#7d1285","#000000","#1414e6"]}}}},
{"mark":{"type":"text","align":"left","dx":2,"fontSize":12,"color":"#444444"},"encoding":{"x":{"field":"b","type":"quantitative","axis":null},"y":{"field":"p","type":"quantitative","axis":null},"text":{"field":"t"}}}]},
{"data":{"values":[{"t":"(c)","x":-101.1,"y":1.61e-6,"r":"label","d":"h"},{"t":"/V","x":-34.1,"y":-10.44e-6,"r":"title","d":"h"},{"t":"/A","x":-110.2,"y":-3.62e-6,"r":"title","d":"v"},{"t":"V","x":16.7,"y":0.547e-6,"r":"legend","d":"h"},{"t":"GS","x":19.4,"y":0.313e-6,"r":"isub","d":"h"}]},"mark":{"type":"text","color":"#333333"},"encoding":{"x":{"field":"x","type":"quantitative","axis":null},"y":{"field":"y","type":"quantitative","axis":null},"text":{"field":"t"},"size":{"field":"r","type":"ordinal","scale":{"type":"ordinal","domain":["label","title","note","box","legend","inset","sub","isub"],"range":[18,17,15,13,12,12,9,7]}},"angle":{"field":"d","type":"ordinal","scale":{"domain":["h","v"],"range":[0,270]}}}},
{"data":{"values":[{"t":"V","x":-45.5,"y":-10.44e-6,"r":"title","d":"h"},{"t":"DS","x":-40.8,"y":-10.74e-6,"r":"sub","d":"h"},{"t":"I","x":-110.2,"y":-4.51e-6,"r":"title","d":"v"},{"t":"D","x":-107.4,"y":-4.24e-6,"r":"sub","d":"v"}]},"mark":{"type":"text","color":"#333333","fontStyle":"italic"},"encoding":{"x":{"field":"x","type":"quantitative","axis":null},"y":{"field":"y","type":"quantitative","axis":null},"text":{"field":"t"},"size":{"field":"r","type":"ordinal","scale":{"type":"ordinal","domain":["label","title","note","box","legend","inset","sub","isub"],"range":[18,17,15,13,12,12,9,7]}},"angle":{"field":"d","type":"ordinal","scale":{"domain":["h","v"],"range":[0,270]}}}}
]},
{"resolve":{"axis":{"x":"independent","y":"independent"}},"layer":[
{"data":{"values":[{"a":-88.6,"b":11.4,"p":-2e-7,"q":1.1e-8}]},"mark":{"type":"rect","fill":"white","stroke":"#888888","strokeWidth":1},"encoding":{
"x":{"field":"a","type":"quantitative","scale":{"domain":[-88.6,11.4],"range":[240.7,349],"nice":false,"zero":false},"axis":{"orient":"top","offset":-444,"zindex":1,"labelFontSize":10,"labelPadding":2,"values":[-80,-70,-60,-50,-40,-30,-20,-10,0,10],"labelExpr":"datum.value%20==0?''+datum.value:''","tickSize":{"condition":{"test":"datum.value%20==0","value":4},"value":2}}},"x2":{"field":"b"},
"y":{"field":"p","type":"quantitative","scale":{"domain":[-2e-7,1.1e-8],"range":[540.7,444],"nice":false,"zero":false},"axis":{"orient":"left","offset":-240.7,"zindex":1,"labelFontSize":10,"labelPadding":2,"values":[-2e-7,-1.75e-7,-1.5e-7,-1.25e-7,-1e-7,-7.5e-8,-5e-8,-2.5e-8,0],"labelExpr":"abs(datum.value*2e7-round(datum.value*2e7))>0.01?'':datum.value==0?'0.0':datum.value>-6e-8?'-5.0x10⁻⁸':'-'+format(-datum.value*1e7,'.1f')+'x10⁻⁷'","tickSize":{"condition":{"test":"abs(datum.value*2e7-round(datum.value*2e7))<0.01","value":4},"value":2}}},"y2":{"field":"q"}}},
{"data":{"name":"insetLines"},"mark":{"type":"line","strokeWidth":1},"encoding":{"x":{"field":"v","type":"quantitative","axis":null},"y":{"field":"i","type":"quantitative","axis":null},"color":{"field":"g","type":"nominal","scale":{"domain":["0","10","20","30","40","50","60","70","ink","blue"],"range":["#000000","#ff1a1a","#1414f0","#ff1aff","#0a8a0a","#0a0a85","#7a14e6","#7d1285","#000000","#1414e6"]}}}},
{"data":{"values":[{"t":"/V","x":-31.4,"y":0.596e-7,"r":"inset","d":"h"},{"t":"/A","x":-137,"y":-0.857e-7,"r":"inset","d":"v"}]},"mark":{"type":"text","color":"#333333"},"encoding":{"x":{"field":"x","type":"quantitative","axis":null},"y":{"field":"y","type":"quantitative","axis":null},"text":{"field":"t"},"size":{"field":"r","type":"ordinal","scale":{"type":"ordinal","domain":["label","title","note","box","legend","inset","sub","isub"],"range":[18,17,15,13,12,12,9,7]}},"angle":{"field":"d","type":"ordinal","scale":{"domain":["h","v"],"range":[0,270]}}}},
{"data":{"values":[{"t":"V","x":-50.7,"y":0.596e-7,"r":"inset","d":"h"},{"t":"DS","x":-43.1,"y":0.502e-7,"r":"isub","d":"h"},{"t":"I","x":-137,"y":-1.113e-7,"r":"inset","d":"v"},{"t":"D","x":-131.7,"y":-1.04e-7,"r":"isub","d":"v"}]},"mark":{"type":"text","color":"#333333","fontStyle":"italic"},"encoding":{"x":{"field":"x","type":"quantitative","axis":null},"y":{"field":"y","type":"quantitative","axis":null},"text":{"field":"t"},"size":{"field":"r","type":"ordinal","scale":{"type":"ordinal","domain":["label","title","note","box","legend","inset","sub","isub"],"range":[18,17,15,13,12,12,9,7]}},"angle":{"field":"d","type":"ordinal","scale":{"domain":["h","v"],"range":[0,270]}}}}
]},
{"resolve":{"axis":{"x":"independent","y":"independent"}},"layer":[
{"data":{"values":[{"a":-10,"b":90,"p":-1.5e-7,"q":1.393e-6}]},"mark":{"type":"rect","fill":"transparent","stroke":"#666666","strokeWidth":1},"encoding":{
"x":{"field":"a","type":"quantitative","scale":{"domain":[-10,90],"range":[490,755.7],"nice":false,"zero":false},"axis":{"orient":"bottom","offset":-43,"values":[-10,0,10,20,30,40,50,60,70,80,90],"labelExpr":"datum.value%20==0?''+datum.value:''","tickSize":{"condition":{"test":"datum.value%20==0","value":5},"value":2.5}}},"x2":{"field":"b"},
"y":{"field":"p","type":"quantitative","scale":{"domain":[-1.5e-7,1.393e-6],"range":[550,336.7],"nice":false,"zero":false},"axis":{"orient":"left","offset":-490,"values":[-1e-7,0,1e-7,2e-7,3e-7,4e-7,5e-7,6e-7,7e-7,8e-7,9e-7,1e-6,1.1e-6,1.2e-6,1.3e-6],"labelExpr":"abs(datum.value*5e6-round(datum.value*5e6))>0.01?'':datum.value==0?'0.0':datum.value<9.9e-7?format(datum.value*1e7,'.1f')+'x10⁻⁷':format(datum.value*1e6,'.1f')+'x10⁻⁶'","tickSize":{"condition":{"test":"abs(datum.value*5e6-round(datum.value*5e6))<0.01","value":5},"value":2.5}}},"y2":{"field":"q"}}},
{"data":{"name":"dLines"},"mark":{"type":"line","strokeWidth":2},"encoding":{"x":{"field":"v","type":"quantitative","axis":null},"y":{"field":"i","type":"quantitative","axis":null},"color":{"field":"g","type":"nominal","scale":{"domain":["0","10","20","30","40","50","60","70","ink","blue"],"range":["#000000","#ff1a1a","#1414f0","#ff1aff","#0a8a0a","#0a0a85","#7a14e6","#7d1285","#000000","#1414e6"]}}}},
{"data":{"values":[{"g":"0","a":-6.3,"b":3.8,"p":1.168e-6,"t":"0 V"},{"g":"10","a":-6.3,"b":3.8,"p":1.069e-6,"t":"10 V"},{"g":"20","a":-6.3,"b":3.8,"p":0.971e-6,"t":"20 V"},{"g":"30","a":-6.3,"b":3.8,"p":0.872e-6,"t":"30 V"},{"g":"40","a":-6.3,"b":3.8,"p":0.773e-6,"t":"40 V"},{"g":"50","a":-6.3,"b":3.8,"p":0.674e-6,"t":"50 V"},{"g":"60","a":-6.3,"b":3.8,"p":0.576e-6,"t":"60 V"},{"g":"70","a":-6.3,"b":3.8,"p":0.477e-6,"t":"70 V"}]},"layer":[
{"mark":{"type":"rule","strokeWidth":2},"encoding":{"x":{"field":"a","type":"quantitative","axis":null},"x2":{"field":"b"},"y":{"field":"p","type":"quantitative","axis":null},"color":{"field":"g","type":"nominal","scale":{"domain":["0","10","20","30","40","50","60","70","ink","blue"],"range":["#000000","#ff1a1a","#1414f0","#ff1aff","#0a8a0a","#0a0a85","#7a14e6","#7d1285","#000000","#1414e6"]}}}},
{"mark":{"type":"text","align":"left","dx":1,"fontSize":12,"color":"#444444"},"encoding":{"x":{"field":"b","type":"quantitative","axis":null},"y":{"field":"p","type":"quantitative","axis":null},"text":{"field":"t"}}}]},
{"data":{"values":[{"t":"(d)","x":-21.9,"y":1.49e-6,"r":"label","d":"h"},{"t":"/V","x":45.2,"y":-0.372e-6,"r":"title","d":"h"},{"t":"/A","x":-29.5,"y":0.682e-6,"r":"title","d":"v"},{"t":"V","x":-4.4,"y":1.291e-6,"r":"legend","d":"h"},{"t":"GS","x":-1.2,"y":1.253e-6,"r":"isub","d":"h"}]},"mark":{"type":"text","color":"#333333"},"encoding":{"x":{"field":"x","type":"quantitative","axis":null},"y":{"field":"y","type":"quantitative","axis":null},"text":{"field":"t"},"size":{"field":"r","type":"ordinal","scale":{"type":"ordinal","domain":["label","title","note","box","legend","inset","sub","isub"],"range":[18,17,15,13,12,12,9,7]}},"angle":{"field":"d","type":"ordinal","scale":{"domain":["h","v"],"range":[0,270]}}}},
{"data":{"values":[{"t":"V","x":34.5,"y":-0.372e-6,"r":"title","d":"h"},{"t":"DS","x":38.9,"y":-0.419e-6,"r":"sub","d":"h"},{"t":"I","x":-29.5,"y":0.55e-6,"r":"title","d":"v"},{"t":"D","x":-27,"y":0.586e-6,"r":"sub","d":"v"}]},"mark":{"type":"text","color":"#333333","fontStyle":"italic"},"encoding":{"x":{"field":"x","type":"quantitative","axis":null},"y":{"field":"y","type":"quantitative","axis":null},"text":{"field":"t"},"size":{"field":"r","type":"ordinal","scale":{"type":"ordinal","domain":["label","title","note","box","legend","inset","sub","isub"],"range":[18,17,15,13,12,12,9,7]}},"angle":{"field":"d","type":"ordinal","scale":{"domain":["h","v"],"range":[0,270]}}}}
]}
],
"resolve":{"scale":{"x":"independent","y":"independent"},"axis":{"x":"independent","y":"independent"}}}
